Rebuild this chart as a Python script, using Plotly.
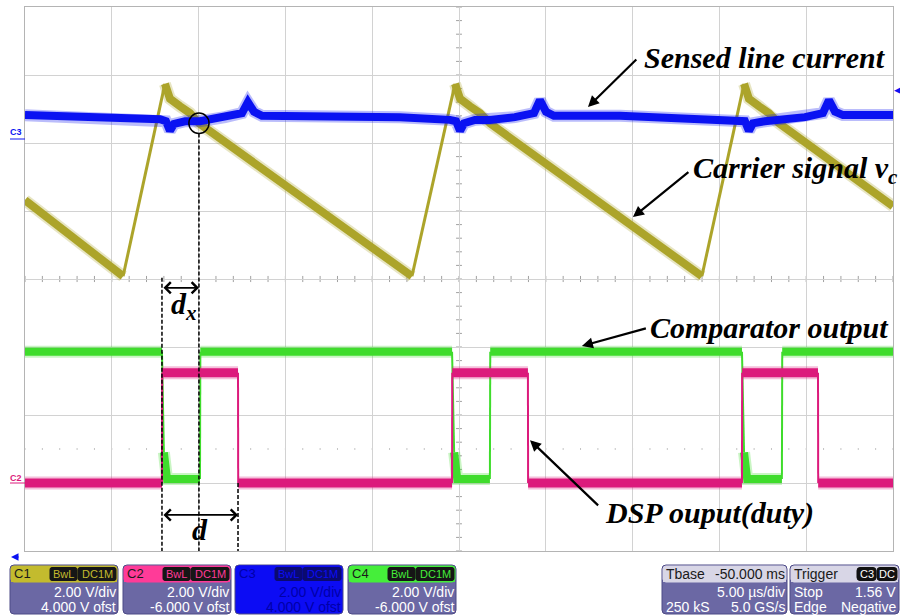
import plotly.graph_objects as go

# ---------------- data (time in µs, 5 µs/div ; amplitude in screen divisions, 0 = centre) -------------
carrier_t = [0.00, 5.65, 8.06, 8.35, 8.93, 9.50, 10.02, 22.29, 24.77, 25.06, 25.63, 26.21, 26.78,
             38.99, 41.42, 41.70, 42.28, 42.85, 43.43, 50.00]
carrier_v = [1.16, 0.04, 2.87, 2.65, 2.54, 2.44, 2.29, 0.04, 2.87, 2.65, 2.54, 2.44, 2.29,
             0.04, 2.87, 2.65, 2.54, 2.44, 2.29, 1.07]

current_t = [0, 4.32, 7.78, 8.12, 8.35, 8.58, 9.22, 10.08, 11.52, 12.50, 12.84, 13.19, 13.65, 17.57,
             21.6, 24.48, 24.83, 25.06, 25.29, 25.92, 26.78, 28.22, 29.32, 29.66, 30.01, 30.47, 34.27,
             38.88, 41.18, 41.47, 41.70, 41.93, 42.62, 43.49, 44.93, 45.96, 46.31, 46.66, 47.12, 50]
current_v = [2.41, 2.38, 2.35, 2.32, 2.18, 2.28, 2.32, 2.32, 2.38, 2.44, 2.60, 2.46, 2.40, 2.40,
             2.38, 2.34, 2.32, 2.18, 2.29, 2.34, 2.34, 2.38, 2.44, 2.63, 2.46, 2.40, 2.40,
             2.35, 2.34, 2.32, 2.18, 2.29, 2.32, 2.34, 2.38, 2.44, 2.63, 2.46, 2.41, 2.41]

comp_t = [0.00, 7.89, 8.00, 8.18, 10.08, 10.10, 24.60, 24.72, 24.90, 26.78, 26.80,
          41.30, 41.42, 41.60, 43.60, 43.62, 50.00]
comp_v = [-1.07, -1.07, -2.55, -2.94, -2.94, -1.07, -1.07, -2.55, -2.94, -2.94, -1.07,
          -1.07, -2.55, -2.94, -2.94, -1.07, -1.07]

duty_t = [0.00, 7.89, 7.90, 12.27, 12.28, 24.60, 24.61, 28.97, 28.98, 41.30, 41.31, 45.68, 45.69, 50.00]
duty_v = [-3.00, -3.00, -1.38, -1.38, -3.00, -3.00, -1.38, -1.38, -3.00, -3.00, -1.38, -1.38, -3.00, -3.00]

# panel texts
ch_names = ["C1", "C2", "C3", "C4"]
ch_vdiv = ["2.00 V/div", "2.00 V/div", "2.00 V/div", "2.00 V/div"]
ch_ofst = ["4.000 V ofst", "-6.000 V ofst", "4.000 V ofst", "-6.000 V ofst"]

# ---------------- layout geometry ----------------
W, H = 900, 616
L, R, T, B = 25, 7, 7, 65
PW, PH = W - L - R, H - T - B


def px(x):
    return (x - L) / PW


def py(y):
    return (H - B - y) / PH


YEL = "#aca42a"
BLU = "#0a12f2"
GRN = "#3fdc2c"
MAG = "#dc1a7c"

fig = go.Figure()


def runs(t, v, thin_pred):
    out = []
    cur = None
    for i in range(len(t) - 1):
        kind = thin_pred(t[i + 1] - t[i], v[i + 1] - v[i])
        if cur is None or cur[0] != kind:
            cur = [kind, [t[i]], [v[i]]]
            out.append(cur)
        cur[1].append(t[i + 1])
        cur[2].append(v[i + 1])
    return out


def add_channel(t, v, color, thick, thin, thin_pred):
    for kind, xs, ys in runs(t, v, thin_pred):
        if not kind:
            fig.add_trace(go.Scatter(x=xs, y=ys, mode="lines", line=dict(color=color, width=thick + 4),
                                     opacity=0.28, hoverinfo="skip", showlegend=False))
    for kind, xs, ys in runs(t, v, thin_pred):
        fig.add_trace(go.Scatter(x=xs, y=ys, mode="lines",
                                 line=dict(color=color, width=thin if kind else thick),
                                 hoverinfo="skip", showlegend=False))


add_channel(carrier_t, carrier_v, YEL, 8, 3, lambda dt, dv: dv > 0 and dv / dt > 0.5)
add_channel(current_t, current_v, BLU, 8, 8, lambda dt, dv: False)
add_channel(comp_t, comp_v, GRN, 8, 2, lambda dt, dv: dt == 0 or abs(dv / dt) > 3)
add_channel(duty_t, duty_v, MAG, 9, 2, lambda dt, dv: dt == 0 or abs(dv / dt) > 3)

shapes = []
# centre cross tick marks
for k in range(51):
    shapes.append(dict(type="line", xref="x", yref="y", x0=k, x1=k, y0=-0.045, y1=0.045,
                       line=dict(color="#a0a0a0", width=1), layer="below"))
    shapes.append(dict(type="line", xref="x", yref="y", x0=k, x1=k, y0=-2.51, y1=-2.49,
                       line=dict(color="#a8a8a8", width=1), layer="below"))
for k in range(41):
    yy = -4 + k * 0.2
    shapes.append(dict(type="line", xref="x", yref="y", x0=24.83, x1=25.17, y0=yy, y1=yy,
                       line=dict(color="#a0a0a0", width=1), layer="below"))

# measurement construction
cx, cy = 10.02, 2.29
shapes.append(dict(type="circle", xref="x", yref="y", x0=cx - 0.58, x1=cx + 0.58, y0=cy - 0.15, y1=cy + 0.15,
                   line=dict(color="black", width=1.5)))
for x0, ytop in [(7.89, 0.02), (cx, cy - 0.15), (12.27, -3.0)]:
    shapes.append(dict(type="line", xref="x", yref="y", x0=x0, x1=x0, y0=ytop, y1=-4,
                       line=dict(color="black", width=1.5, dash="4px,2px")))

# channel markers
shapes.append(dict(type="line", xref="paper", yref="paper", x0=px(10), x1=px(25), y0=py(139), y1=py(139),
                   line=dict(color=BLU, width=1)))
shapes.append(dict(type="line", xref="paper", yref="paper", x0=px(10), x1=px(25), y0=py(483), y1=py(483),
                   line=dict(color=MAG, width=1)))


def rrect(x0, y0, x1, y1, r, fill, border=None):
    X0, X1 = px(x0), px(x1)
    rx = r / PW
    ry = r / PH
    Y0, Y1 = py(y0), py(y1)  # Y0 top (larger)
    p = (f"M{X0 + rx},{Y0} L{X1 - rx},{Y0} Q{X1},{Y0} {X1},{Y0 - ry} L{X1},{Y1 + ry} Q{X1},{Y1} {X1 - rx},{Y1} "
         f"L{X0 + rx},{Y1} Q{X0},{Y1} {X0},{Y1 + ry} L{X0},{Y0 - ry} Q{X0},{Y0} {X0 + rx},{Y0} Z")
    shapes.append(dict(type="path", xref="paper", yref="paper", path=p, fillcolor=fill,
                       line=dict(color=border or fill, width=1)))


def rect(x0, y0, x1, y1, fill):
    shapes.append(dict(type="rect", xref="paper", yref="paper", x0=px(x0), x1=px(x1), y0=py(y1), y1=py(y0),
                       fillcolor=fill, line=dict(width=0)))


annots = []


def txt(x, y, s, color, size=14, anchor="left", family="Liberation Sans, Arial, sans-serif"):
    annots.append(dict(xref="paper", yref="paper", x=px(x), y=py(y), text=s, showarrow=False,
                       xanchor=anchor, yanchor="middle", font=dict(family=family, size=size, color=color),
                       borderpad=0))


BODY = "#6b68a4"
EDGE = "#4d4a86"
hdr_cols = ["#c3bb2e", "#ff3b98", "#0c0cf4", "#45ee3a"]
badge_txt = ["#c3bb2e", "#ff3b98", "#0c0cf4", "#45ee3a"]
box_x = [10, 123, 235, 348]
for i, x0 in enumerate(box_x):
    x1 = x0 + 108
    blue_box = ch_names[i] == "C3"
    rrect(x0, 565, x1, 614, 4, hdr_cols[i] if blue_box else BODY, EDGE)
    rrect(x0 + 1, 566, x1 - 1, 582, 3, hdr_cols[i])
    rect(x0 + 1, 576, x1 - 1, 582, hdr_cols[i])
    bcol = "#0a0a70" if blue_box else "#161616"
    rrect(x0 + 40, 567.5, x0 + 67, 580.5, 2, bcol)
    rrect(x0 + 68, 567.5, x0 + 106, 580.5, 2, bcol)
    tcol = "#0000a8" if blue_box else "white"
    txt(x0 + 3, 573.5, ch_names[i], "#0000a8" if blue_box else "#1a1a1a", 13)
    txt(x0 + 53.5, 574, "BwL", badge_txt[i], 11, "center")
    txt(x0 + 87, 574, "DC1M", badge_txt[i], 11, "center")
    txt(x1 - 1, 592, ch_vdiv[i], tcol, 14, "right")
    txt(x1 - 1, 607, ch_ofst[i], tcol, 14, "right")

# timebase / trigger boxes
HDR2 = "#d8d6e6"
rrect(662, 565, 787, 614, 4, BODY, EDGE)
rrect(663, 566, 786, 582, 3, HDR2)
rect(663, 576, 786, 582, HDR2)
txt(665, 573.5, "Tbase", "#1a1a1a", 14)
txt(786, 573.5, "-50.000 ms", "#1a1a1a", 14, "right")
txt(786, 592, "5.00 µs/div", "white", 14, "right")
txt(665, 607, "250 kS", "white", 14)
txt(786, 607, "5.0 GS/s", "white", 14, "right")

rrect(790, 565, 899, 614, 4, BODY, EDGE)
rrect(791, 566, 898, 582, 3, HDR2)
rect(791, 576, 898, 582, HDR2)
txt(793, 573.5, "Trigger", "#1a1a1a", 14)
rrect(857, 567.5, 876, 580.5, 3, "#111111")
rrect(877, 567.5, 897, 580.5, 3, "#111111")
txt(866.5, 574, "C3", "white", 11, "center")
txt(887, 574, "DC", "white", 11, "center")
txt(793, 592, "Stop", "white", 14)
txt(897, 592, "1.56 V", "white", 14, "right")
txt(793, 607, "Edge", "white", 14)
txt(897, 607, "Negative", "white", 14, "right")

# channel labels
txt(9, 132, "<b>C3</b>", BLU, 9)
txt(9, 478, "<b>C2</b>", MAG, 9)
txt(893, 90, "◀", BLU, 9)

# small blue arrow below plot
annots.append(dict(xref="paper", yref="paper", x=px(11), y=py(557), ax=9, ay=0, axref="pixel",
                   ayref="pixel", text="", showarrow=True, arrowhead=2, arrowsize=1, arrowwidth=1.5,
                   arrowcolor=BLU))

# ---------------- annotation texts with arrows ----------------
SERIF = "Liberation Serif, Times New Roman, serif"


def label(x, y, s, size=30, anchor="left"):
    annots.append(dict(xref="x", yref="y", x=x, y=y, text=f"<b><i>{s}</i></b>", showarrow=False,
                       xanchor=anchor, yanchor="middle", borderpad=0,
                       font=dict(family=SERIF, size=size, color="black", weight="bold", style="italic")))


def arrow(x_tail, y_tail, x_head, y_head, head=2, side="end", width=2.2, size=1.0):
    annots.append(dict(xref="x", yref="y", x=x_head, y=y_head, ax=x_tail, ay=y_tail, axref="x", ayref="y",
                       text="", showarrow=True, arrowhead=head, startarrowhead=head, arrowside=side,
                       arrowsize=size, arrowwidth=width, arrowcolor="black", standoff=0, startstandoff=0))


label(35.60, 3.26, "Sensed line current")
arrow(35.30, 3.25, 32.43, 2.53)
label(38.40, 1.60, "Carrier signal v<sub>c</sub>")
arrow(38.30, 1.59, 35.02, 0.91)
label(35.95, -0.72, "Comparator output")
arrow(35.85, -0.72, 32.08, -0.985)
label(33.35, -3.44, "DSP ouput(duty)")
arrow(33.10, -3.35, 29.09, -2.37)

arrow(7.89, -0.13, cx, -0.13, head=4, side="end+start", width=1.8, size=1.2)
arrow(7.89, -3.47, 12.27, -3.47, head=4, side="end+start", width=1.8, size=1.2)
label(9.15, -0.40, "d<sub>x</sub>", 30, "center")
label(10.08, -3.69, "d", 30, "center")

fig.update_layout(
    width=W, height=H, margin=dict(l=L, r=R, t=T, b=B, pad=0),
    paper_bgcolor="white", plot_bgcolor="white",
    xaxis=dict(range=[0, 50], dtick=5, tick0=0, showgrid=True, gridcolor="#d2d2d2", gridwidth=1,
               zeroline=False, showticklabels=False, ticks="", showline=True, mirror=True,
               linecolor="#b4b4b4", linewidth=1, fixedrange=True),
    yaxis=dict(range=[-4, 4], dtick=1, tick0=0, showgrid=True, gridcolor="#d2d2d2", gridwidth=1,
               zeroline=False, showticklabels=False, ticks="", showline=True, mirror=True,
               linecolor="#b4b4b4", linewidth=1, fixedrange=True),
    shapes=shapes, annotations=annots, showlegend=False,
)

fig.write_html("out.html")
